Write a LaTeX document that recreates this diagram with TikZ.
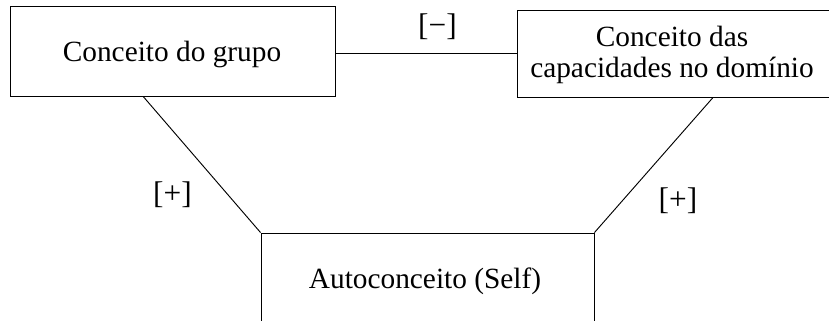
\documentclass[tikz,border=0pt]{standalone}
\usepackage{fontspec}
\setmainfont{Liberation Serif}
\usetikzlibrary{positioning,calc}

\tikzset{
  box/.style={draw, line width=0.7pt, inner sep=0pt},
  txt/.style={font=\fontsize{22}{23.25}\selectfont, align=center, inner sep=0pt},
  sign/.style={font=\fontsize{23.5}{25}\selectfont, inner sep=0pt},
  link/.style={line width=0.7pt},
}

\begin{document}
\begin{tikzpicture}[x=0.75pt, y=-0.75pt]
    \useasboundingbox (0,0) rectangle (829,321);
    \clip (0,0) rectangle (829,321);
    % boxes (right and bottom ones run past the page edge)
    \node[box, minimum width=243.75pt, minimum height=67.5pt] (grupo) at (172.5,51) {};
    \node[box, minimum width=235.5pt, minimum height=65.25pt] (dominio) at (674,53.5) {};
    \node[box, minimum width=249.75pt, minimum height=72pt] (self) at (427.5,281) {};
    \node[txt, anchor=base] (grupotxt) at (172,62) {Conceito do grupo};
    \node[txt, anchor=base] (dominiotxt) at (672,47) {Conceito das};
    \node[txt, anchor=base] (dominiotxtb) at (672,78) {capacidades no domínio};
    \node[txt, anchor=base] (selftxt) at (425,288) {Autoconceito (Self)};
    % links
    \draw[link] (dominio.west -| grupo.east) -- (dominio.west);
    \draw[link] ($(grupo.south west)!0.41!(grupo.south east)$) -- (self.north west);
    \draw[link] ($(dominio.south west)!0.624!(dominio.south east)$) -- (self.north east);
    \node[sign] (neg) at (437.5,27) {[−]};
    \node[sign] (posl) at (172.5,195) {[+]};
    \node[sign] (posr) at (678,200.5) {[+]};
\end{tikzpicture}
\end{document}
